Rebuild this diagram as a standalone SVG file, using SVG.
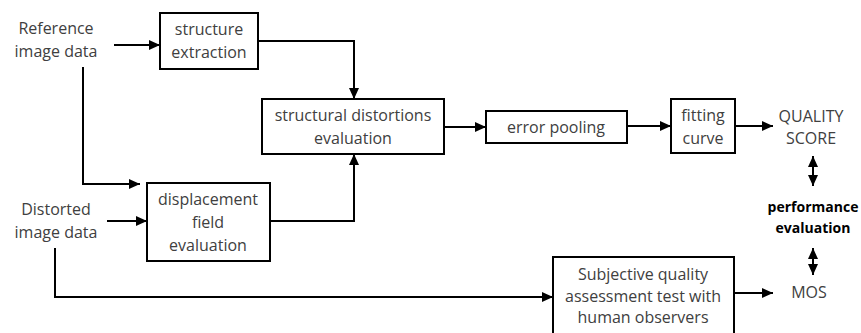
<svg xmlns="http://www.w3.org/2000/svg" width="861" height="333" viewBox="0 0 861 333">
<style>
.box{fill:#fff;stroke:#000;stroke-width:2}
.t{font-family:"Open Sans","Liberation Sans",sans-serif;font-size:16px;fill:#404040;text-anchor:middle}
.b{font-family:"Open Sans","Liberation Sans",sans-serif;font-size:14px;font-weight:bold;fill:#000;text-anchor:middle}
.c{fill:none;stroke:#000;stroke-width:2}
</style>
<defs>
<marker id="ah" markerWidth="12" markerHeight="12" refX="11" refY="6" orient="auto" markerUnits="userSpaceOnUse">
<path d="M0,1 L11,6 L0,11 Z" fill="#000"/>
</marker>
<marker id="ahs" markerWidth="12" markerHeight="12" refX="1" refY="6" orient="auto" markerUnits="userSpaceOnUse">
<path d="M12,1 L1,6 L12,11 Z" fill="#000"/>
</marker>
</defs>
<rect width="861" height="333" fill="#fff"/>
<g id="ref-label"><text class="t" x="56" y="34">Reference</text><text class="t" x="56" y="57">image data</text></g>
<g id="dist-label"><text class="t" x="56" y="215">Distorted</text><text class="t" x="56" y="238">image data</text></g>
<g id="structure-extraction"><rect class="box" x="160" y="13" width="98" height="56"/><text class="t" x="209" y="35">structure</text><text class="t" x="209" y="58">extraction</text></g>
<g id="structural-distortions"><rect class="box" x="262" y="99" width="182" height="55"/><text class="t" x="353" y="121">structural distortions</text><text class="t" x="353" y="144">evaluation</text></g>
<g id="error-pooling"><rect class="box" x="486" y="111" width="141" height="32"/><text class="t" x="556" y="133">error pooling</text></g>
<g id="fitting-curve"><rect class="box" x="671" y="99" width="64" height="54"/><text class="t" x="703" y="121">fitting</text><text class="t" x="703" y="144">curve</text></g>
<g id="displacement"><rect class="box" x="147" y="183" width="123" height="78"/><text class="t" x="208" y="205">displacement</text><text class="t" x="208" y="228">field</text><text class="t" x="208" y="251">evaluation</text></g>
<g id="subjective"><rect class="box" x="553" y="257" width="181" height="85"/><text class="t" x="643" y="280">Subjective quality</text><text class="t" x="643" y="302">assessment test with</text><text class="t" x="643" y="323">human observers</text></g>
<g id="quality-score"><text class="t" x="811" y="122">QUALITY</text><text class="t" x="811" y="144">SCORE</text></g>
<g id="performance"><text class="b" x="813" y="212">performance</text><text class="b" x="813" y="233">evaluation</text></g>
<g id="mos"><text class="t" x="809" y="298">MOS</text></g>
<g id="connectors">
<line class="c" x1="114" y1="45" x2="160" y2="45" marker-end="url(#ah)"/>
<polyline class="c" points="83,67 83,184 140,184" marker-end="url(#ah)"/>
<line class="c" x1="107" y1="221" x2="147" y2="221" marker-end="url(#ah)"/>
<polyline class="c" points="258,41 354,41 354,99" marker-end="url(#ah)"/>
<polyline class="c" points="270,221 354,221 354,154" marker-end="url(#ah)"/>
<line class="c" x1="444" y1="127" x2="486" y2="127" marker-end="url(#ah)"/>
<line class="c" x1="627" y1="126" x2="671" y2="126" marker-end="url(#ah)"/>
<line class="c" x1="735" y1="126" x2="773" y2="126" marker-end="url(#ah)"/>
<polyline class="c" points="55,248 55,297 553,297" marker-end="url(#ah)"/>
<line class="c" x1="734" y1="293" x2="773" y2="293" marker-end="url(#ah)"/>
<line class="c" x1="813" y1="156" x2="813" y2="186" marker-start="url(#ahs)" marker-end="url(#ah)"/>
<line class="c" x1="813" y1="248" x2="813" y2="275" marker-start="url(#ahs)" marker-end="url(#ah)"/>
</g>
</svg>
